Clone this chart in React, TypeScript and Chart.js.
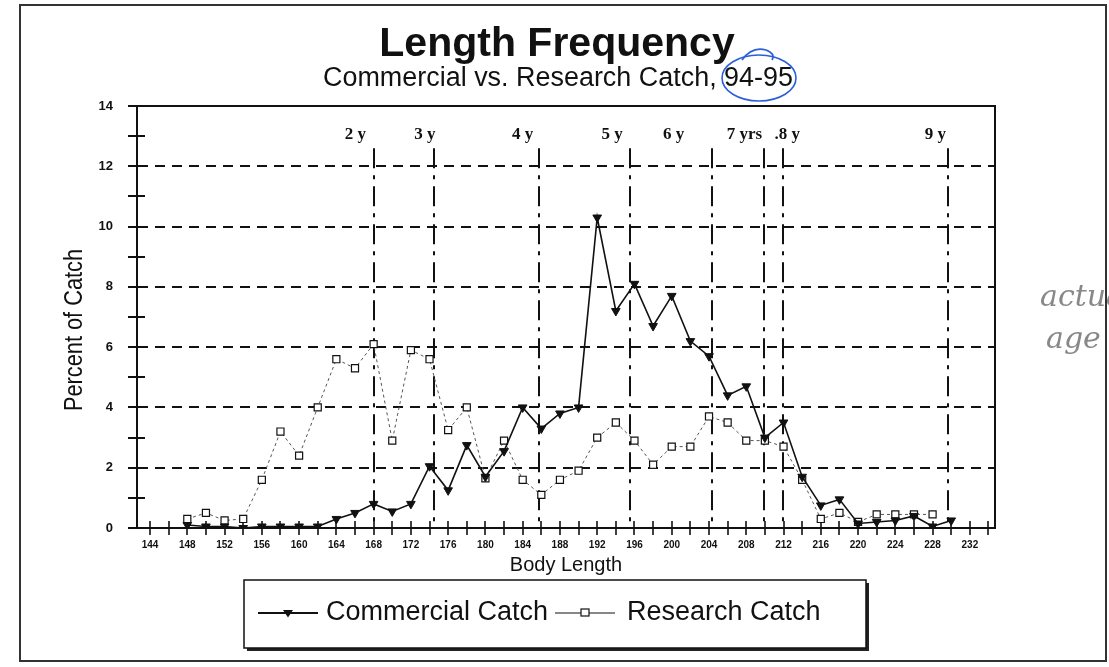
import React, { useEffect, useRef } from 'react';
import { Chart, registerables } from 'chart.js';

Chart.register(...registerables);

// ---- Data ----
const bodyLengths = [148, 150, 152, 154, 156, 158, 160, 162, 164, 166, 168, 170, 172, 174, 176, 178, 180, 182, 184, 186, 188, 190, 192, 194, 196, 198, 200, 202, 204, 206, 208, 210, 212, 214, 216, 218, 220, 222, 224, 226, 228, 230];
const commercialCatch = [0.1, 0.05, 0.05, 0.0, 0.05, 0.05, 0.05, 0.05, 0.3, 0.5, 0.8, 0.55, 0.8, 2.05, 1.25, 2.75, 1.7, 2.55, 4.0, 3.3, 3.8, 4.0, 10.3, 7.2, 8.1, 6.7, 7.7, 6.2, 5.7, 4.4, 4.7, 3.0, 3.5, 1.7, 0.75, 0.95, 0.15, 0.2, 0.25, 0.4, 0.05, 0.25];
const researchCatch = [0.3, 0.5, 0.25, 0.3, 1.6, 3.2, 2.4, 4.0, 5.6, 5.3, 6.1, 2.9, 5.9, 5.6, 3.25, 4.0, 1.65, 2.9, 1.6, 1.1, 1.6, 1.9, 3.0, 3.5, 2.9, 2.1, 2.7, 2.7, 3.7, 3.5, 2.9, 2.9, 2.7, 1.6, 0.3, 0.5, 0.2, 0.45, 0.45, 0.45, 0.45, null];
const xTickLabels = [144, 148, 152, 156, 160, 164, 168, 172, 176, 180, 184, 188, 192, 196, 200, 204, 208, 212, 216, 220, 224, 228, 232];
const ageLabels = ['2 y', '3 y', '4 y', '5 y', '6 y', '7 yrs', '.8 y', '9 y'];
const ageLinePositions = [168, 174.5, 185.75, 195.5, 204.3, 209.9, 211.9, 229.65];
const ageLabelPositions = [166.05, 173.5, 184.0, 193.6, 200.2, 207.8, 212.4, 228.3];

const INK = '#111';

function drawTriangleDown(ctx: CanvasRenderingContext2D, x: number, y: number, r: number) {
  ctx.beginPath();
  ctx.moveTo(x - r, y - r * 0.6);
  ctx.lineTo(x + r, y - r * 0.6);
  ctx.lineTo(x, y + r * 0.9);
  ctx.closePath();
  ctx.fill();
}

const decorPlugin = {
  id: 'decor',
  beforeDatasetsDraw(chart: any) {
    const { ctx, chartArea } = chart;
    const x = chart.scales.x;
    const y = chart.scales.y;
    ctx.save();
    // plot frame top & right
    ctx.strokeStyle = INK;
    ctx.lineWidth = 2;
    ctx.setLineDash([]);
    ctx.beginPath();
    ctx.moveTo(chartArea.left, chartArea.top);
    ctx.lineTo(chartArea.right, chartArea.top);
    ctx.lineTo(chartArea.right, chartArea.bottom);
    ctx.stroke();
    // y cross ticks at every integer
    ctx.lineWidth = 2;
    for (let v = 0; v <= 14; v++) {
      const py = Math.round(y.getPixelForValue(v));
      ctx.beginPath();
      ctx.moveTo(chartArea.left - 9, py);
      ctx.lineTo(chartArea.left + 8, py);
      ctx.stroke();
    }
    // x cross ticks every 2 units
    ctx.lineWidth = 1.6;
    for (let v = 144; v <= 234; v += 2) {
      const px = Math.round(x.getPixelForValue(v));
      ctx.beginPath();
      ctx.moveTo(px, chartArea.bottom - 7);
      ctx.lineTo(px, chartArea.bottom + 7);
      ctx.stroke();
    }
    // age lines
    ctx.lineWidth = 2;
    ctx.setLineDash([20, 7, 4, 7]);
    ageLinePositions.forEach((v) => {
      const px = Math.round(x.getPixelForValue(v));
      ctx.beginPath();
      ctx.moveTo(px, y.getPixelForValue(12.6));
      ctx.lineTo(px, chartArea.bottom);
      ctx.stroke();
    });
    ctx.setLineDash([]);
    // age labels
    ctx.fillStyle = INK;
    ctx.font = 'bold 17px "Liberation Serif"';
    ctx.textAlign = 'center';
    ctx.textBaseline = 'middle';
    ageLabels.forEach((t, i) => {
      ctx.fillText(t, x.getPixelForValue(ageLabelPositions[i]), y.getPixelForValue(13.05));
    });
    ctx.restore();
  },
  afterDraw(chart: any) {
    const { ctx, chartArea } = chart;
    ctx.save();
    ctx.fillStyle = INK;
    ctx.strokeStyle = INK;
    // titles
    ctx.textAlign = 'center';
    ctx.textBaseline = 'alphabetic';
    ctx.font = 'bold 41px "Liberation Sans"';
    ctx.fillText('Length Frequency', 557, 56, 360);
    ctx.font = '27px "Liberation Sans"';
    ctx.fillText('Commercial vs. Research Catch, 94-95', 558, 86, 470);
    // axis titles
    ctx.font = '20px "Liberation Sans"';
    ctx.fillText('Body Length', (chartArea.left + chartArea.right) / 2, 571, 128);
    ctx.save();
    ctx.translate(75, 330);
    ctx.rotate(-Math.PI / 2);
    ctx.textBaseline = 'middle';
    ctx.font = '25px "Liberation Sans"';
    ctx.fillText('Percent of Catch', 0, 0, 162);
    ctx.restore();

    // legend box
    ctx.fillStyle = '#222';
    ctx.fillRect(247, 647, 622, 4);
    ctx.fillRect(865, 583, 4, 68);
    ctx.fillStyle = '#fff';
    ctx.fillRect(244, 580, 622, 68);
    ctx.lineWidth = 1.5;
    ctx.strokeStyle = INK;
    ctx.strokeRect(244, 580, 622, 68);
    // legend entries
    ctx.fillStyle = INK;
    ctx.lineWidth = 1.8;
    ctx.beginPath();
    ctx.moveTo(258, 613);
    ctx.lineTo(318, 613);
    ctx.stroke();
    drawTriangleDown(ctx, 288, 613, 5);
    ctx.lineWidth = 1;
    ctx.beginPath();
    ctx.moveTo(555, 613);
    ctx.lineTo(615, 613);
    ctx.stroke();
    ctx.fillStyle = '#fff';
    ctx.fillRect(581, 609, 8, 7);
    ctx.lineWidth = 1.2;
    ctx.strokeRect(581, 609, 8, 7);
    ctx.fillStyle = INK;
    ctx.textAlign = 'left';
    ctx.textBaseline = 'middle';
    ctx.font = '27px "Liberation Sans"';
    ctx.fillText('Commercial Catch', 326, 613, 225);
    ctx.fillText('Research Catch', 627, 613, 194);

    // outer frame
    ctx.strokeStyle = '#333';
    ctx.lineWidth = 2;
    ctx.strokeRect(20, 5, 1086, 656);

    // handwritten annotations
    ctx.strokeStyle = '#2b5fd9';
    ctx.lineWidth = 1.6;
    ctx.beginPath();
    ctx.ellipse(759, 78, 37, 23, 0, 0, Math.PI * 2);
    ctx.stroke();
    ctx.beginPath();
    ctx.moveTo(742, 60);
    ctx.quadraticCurveTo(752, 46, 766, 50);
    ctx.quadraticCurveTo(776, 54, 772, 60);
    ctx.stroke();
    ctx.fillStyle = '#888';
    ctx.textAlign = 'left';
    ctx.textBaseline = 'alphabetic';
    ctx.font = 'italic 30px "DejaVu Serif"';
    ctx.fillText('actual', 1040, 306);
    ctx.fillText('age', 1046, 348);
    ctx.restore();
  },
};

export default function App() {
  const canvasRef = useRef<HTMLCanvasElement | null>(null);

  useEffect(() => {
    const canvas = canvasRef.current;
    if (!canvas) return;
    const commercialPoints = bodyLengths.map((v, i) => ({ x: v, y: commercialCatch[i] }));
    const researchPoints = bodyLengths
      .map((v, i) => ({ x: v, y: researchCatch[i] }))
      .filter((p) => p.y !== null);

    const chart = new Chart(canvas, {
      type: 'line',
      data: {
        datasets: [
          {
            label: 'Commercial Catch',
            data: commercialPoints as any,
            borderColor: INK,
            borderWidth: 1.6,
            pointStyle: 'triangle',
            pointRotation: 180,
            pointRadius: 5,
            pointBackgroundColor: INK,
            pointBorderColor: INK,
            pointBorderWidth: 1,
            tension: 0,
          } as any,
          {
            label: 'Research Catch',
            data: researchPoints as any,
            borderColor: '#555',
            borderWidth: 1,
            borderDash: [3, 3],
            pointStyle: 'rect',
            pointRadius: 5,
            pointBackgroundColor: '#fff',
            pointBorderColor: INK,
            pointBorderWidth: 1.2,
            tension: 0,
          } as any,
        ],
      },
      options: {
        animation: false,
        responsive: false,
        devicePixelRatio: 1,
        layout: { padding: { top: 106, right: 114, left: 0, bottom: 0 } },
        plugins: {
          legend: { display: false },
          title: { display: false },
          tooltip: { enabled: false },
        },
        scales: {
          x: {
            type: 'linear',
            min: 142.6,
            max: 234.7,
            afterFit: (s: any) => {
              s.height = 139;
            },
            afterBuildTicks: (s: any) => {
              s.ticks = xTickLabels.map((v) => ({ value: v }));
            },
            grid: { display: false, drawTicks: false },
            border: { display: true, color: INK, width: 2 },
            ticks: {
              autoSkip: false,
              maxRotation: 0,
              minRotation: 0,
              padding: 11,
              color: INK,
              font: { family: '"Liberation Sans"', size: 10, weight: 'bold' },
              callback: (v: any) => String(v),
            },
          },
          y: {
            type: 'linear',
            min: 0,
            max: 14,
            afterFit: (s: any) => {
              s.width = 137;
            },
            ticks: {
              stepSize: 2,
              padding: 24,
              color: INK,
              font: { family: '"Liberation Sans"', size: 13, weight: 'bold' },
            },
            grid: {
              drawTicks: false,
              lineWidth: 2,
              color: (c: any) =>
                c.tick && (c.tick.value === 0 || c.tick.value === 14) ? 'rgba(0,0,0,0)' : INK,
            },
            border: { display: true, color: INK, width: 2, dash: [10, 7] },
          },
        },
      } as any,
      plugins: [decorPlugin],
    });
    return () => chart.destroy();
  }, []);

  return (
    <div style={{ position: 'fixed', left: 0, top: 0, width: 1109, height: 667, background: '#fff' }}>
      <canvas ref={canvasRef} width={1109} height={667} style={{ display: 'block', width: 1109, height: 667 }} />
    </div>
  );
}
